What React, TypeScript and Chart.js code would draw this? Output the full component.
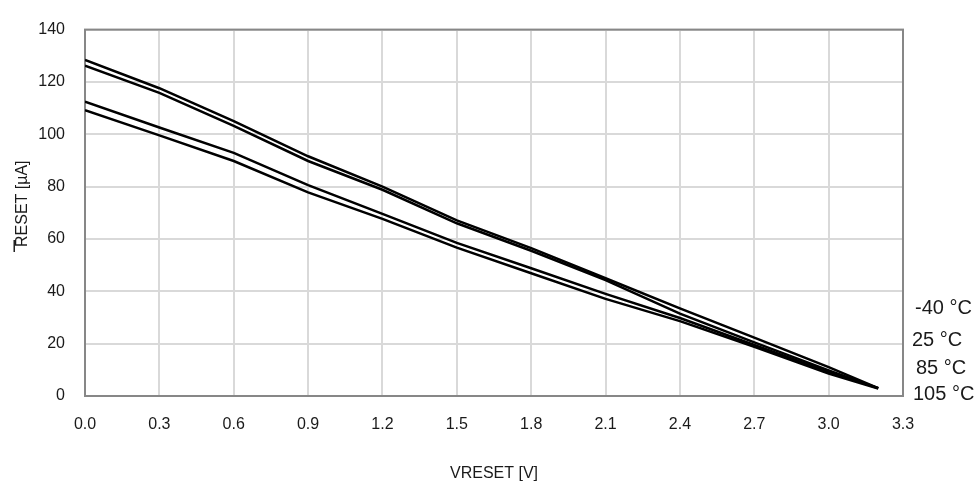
import React, { useEffect, useRef } from "react";
import { Chart, registerables } from "chart.js";

Chart.register(...registerables);

const voltages = [0, 0.3, 0.6, 0.9, 1.2, 1.5, 1.8, 2.1, 2.4, 2.7, 3.0, 3.2];
const seriesM40 = [128.4, 117.6, 105.0, 91.6, 80.0, 67.1, 56.5, 45.0, 33.5, 22.3, 11.0, 3.0];
const series25 = [126.2, 115.8, 103.2, 89.8, 78.8, 66.0, 55.5, 44.3, 31.5, 20.5, 9.8, 3.0];
const series85 = [112.5, 102.6, 92.9, 80.6, 69.6, 58.5, 48.8, 39.0, 29.8, 19.5, 9.2, 3.0];
const series105 = [109.2, 99.6, 89.8, 77.8, 67.7, 56.7, 46.9, 37.1, 28.6, 18.8, 8.6, 2.8];
const tempLabels = ["-40 °C", "25 °C", "85 °C", "105 °C"];
const xTitle = "VRESET [V]";
const yTitleMain = "I";
const yTitleSub = "RESET [µA]";

const FONT = "'Liberation Sans', Arial, sans-serif";

export default function App() {
  const ref = useRef<HTMLCanvasElement>(null);

  useEffect(() => {
    const canvas = ref.current;
    if (!canvas) return;
    const all = [seriesM40, series25, series85, series105];
    const decor = {
      id: "decor",
      beforeDatasetsDraw(chart: any) {
        const { ctx, chartArea: a } = chart;
        ctx.save();
        ctx.strokeStyle = "#878787";
        ctx.lineWidth = 2;
        ctx.strokeRect(a.left, a.top, a.right - a.left, a.bottom - a.top);
        ctx.restore();
      },
      afterDraw(chart: any) {
        const { ctx, chartArea: a } = chart;
        const ys = chart.scales.y;
        ctx.save();
        ctx.fillStyle = "#1a1a1a";
        // y title: upright "I" then rotated subscript text
        ctx.font = `16px ${FONT}`;
        ctx.textAlign = "left";
        ctx.textBaseline = "alphabetic";
        ctx.fillText(yTitleMain, 12, 252);
        ctx.save();
        ctx.translate(27, 247);
        ctx.rotate(-Math.PI / 2);
        ctx.fillText(yTitleSub, 0, 0);
        ctx.restore();
        // temperature labels
        ctx.font = `20px ${FONT}`;
        ctx.textBaseline = "middle";
        const anchors = [33.6, 21.3, 10.7, 0.4];
        const dx = [12, 9, 13, 10];
        tempLabels.forEach((t, i) => {
          ctx.fillText(t, a.right + dx[i], ys.getPixelForValue(anchors[i]));
        });
        ctx.restore();
      },
    };

    const chart = new Chart(canvas, {
      type: "line",
      data: {
        datasets: tempLabels.map((t, i) => ({
          label: t,
          data: voltages.map((v, j) => ({ x: v, y: all[i][j] })),
          borderColor: "#000",
          borderWidth: 2.5,
          pointRadius: 0,
          tension: 0,
          fill: false,
        })),
      },
      options: {
        responsive: false,
        animation: false,
        devicePixelRatio: 1,
        layout: { padding: { top: 15, right: 74, left: 0, bottom: 0 } },
        plugins: { legend: { display: false }, tooltip: { enabled: false } },
        scales: {
          x: {
            type: "linear",
            min: 0,
            max: 3.3,
            afterFit(s: any) {
              s.height = 93;
            },
            ticks: {
              stepSize: 0.3,
              padding: 19,
              color: "#1a1a1a",
              font: { family: FONT, size: 16 },
              callback: (v: any) => Number(v).toFixed(1),
            },
            grid: { color: "#d9d9d9", lineWidth: 2, drawTicks: false },
            border: { display: false },
            title: {
              display: true,
              text: xTitle,
              color: "#1a1a1a",
              font: { family: FONT, size: 16 },
              padding: { top: 6, bottom: 6 },
            },
          },
          y: {
            type: "linear",
            min: 0,
            max: 140,
            afterFit(s: any) {
              s.width = 85;
            },
            ticks: {
              stepSize: 20,
              padding: 20,
              color: "#1a1a1a",
              font: { family: FONT, size: 16 },
            },
            grid: { color: "#d9d9d9", lineWidth: 2, drawTicks: false },
            border: { display: false },
          },
        },
      },
      plugins: [decor],
    });
    return () => chart.destroy();
  }, []);

  return (
    <div style={{ position: "absolute", left: 0, top: 0, width: 977, height: 489, background: "#fff" }}>
      <canvas ref={ref} width={977} height={489} style={{ width: 977, height: 489, display: "block" }} />
    </div>
  );
}
